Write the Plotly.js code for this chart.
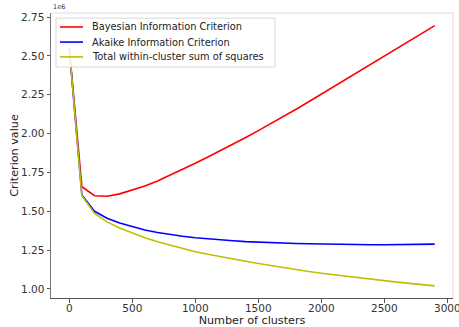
<!DOCTYPE html>
<html>
<head>
<meta charset="utf-8">
<script src="https://cdn.plot.ly/plotly-3.0.1.min.js"></script>
<style>html,body{margin:0;padding:0;background:#fff;}#chart{width:459px;height:327px;}</style>
</head>
<body>
<div id="chart"></div>
<script>
const clusters = [0,100,200,300,400,500,600,700,800,900,1000,1100,1200,1300,1400,1500,1600,1700,1800,1900,2000,2100,2200,2300,2400,2500,2600,2700,2800,2900];
const bic = [2.55,1.658,1.600,1.597,1.612,1.635,1.662,1.695,1.732,1.770,1.809,1.849,1.890,1.932,1.975,2.019,2.064,2.110,2.157,2.205,2.254,2.303,2.352,2.401,2.450,2.499,2.548,2.597,2.646,2.695];
const aic = [2.55,1.605,1.500,1.455,1.425,1.400,1.380,1.364,1.350,1.339,1.330,1.322,1.315,1.310,1.305,1.301,1.298,1.295,1.293,1.291,1.289,1.288,1.287,1.286,1.285,1.285,1.286,1.287,1.288,1.289];
const wcss = [2.55,1.600,1.487,1.432,1.392,1.360,1.330,1.304,1.281,1.260,1.240,1.224,1.207,1.192,1.178,1.164,1.150,1.137,1.124,1.112,1.101,1.091,1.081,1.071,1.062,1.053,1.044,1.036,1.028,1.020];
const seriesNames = ["Bayesian Information Criterion","Akaike Information Criterion","Total within-cluster sum of squares"];
const seriesColors = ["#ff0000","#0000ff","#bfbf00"];
const xTicks = [0,500,1000,1500,2000,2500,3000];
const yTicks = [1.00,1.25,1.50,1.75,2.00,2.25,2.50,2.75];

const font = "DejaVu Sans, Liberation Sans, sans-serif";
const seriesValues = [bic, aic, wcss];
const traces = seriesValues.map((vals, i) => ({
  x: clusters, y: vals, name: seriesNames[i], mode: "lines",
  line: {color: seriesColors[i], width: 1.6}, showlegend: false
}));

// matplotlib-style legend box (upper left), built from the series names/colours
const legRows = [0.951, 0.898, 0.846];
const shapes = [
  {type: "line", xref: "paper", yref: "paper", x0: 0, x1: 1, y0: 1, y1: 1, line: {color: "#dddddd", width: 1}},
  {type: "line", xref: "paper", yref: "paper", x0: 1, x1: 1, y0: 0, y1: 1, line: {color: "#dddddd", width: 1}},
  {type: "rect", xref: "paper", yref: "paper", x0: 0.0124, x1: 0.557, y0: 0.8105, y1: 0.982,
   fillcolor: "rgba(255,255,255,0.85)", line: {color: "#d8d8d8", width: 1}}
];
const annotations = [
  {text: "1e6", xref: "paper", yref: "paper", x: 0, y: 1, xanchor: "left", yanchor: "bottom",
   showarrow: false, font: {size: 6.5, color: "#333"}}
];
seriesNames.forEach((nm, i) => {
  shapes.push({type: "line", xref: "paper", yref: "paper", x0: 0.0224, x1: 0.0796, y0: legRows[i], y1: legRows[i],
    line: {color: seriesColors[i], width: 1.6}});
  annotations.push({text: nm, xref: "paper", yref: "paper", x: 0.097, y: legRows[i], xanchor: "left", yanchor: "middle",
    showarrow: false, font: {size: 9.8, color: "#222"}});
});

const layout = {
  width: 459, height: 327,
  margin: {l: 51, r: 6, t: 13, b: 29},
  paper_bgcolor: "#fff", plot_bgcolor: "#fff",
  font: {family: font, size: 10.5, color: "#333"},
  showlegend: false,
  xaxis: {range: [-145, 3045], tickvals: xTicks, ticks: "outside", ticklen: 3.5, tickcolor: "#555",
    showgrid: false, zeroline: false, showline: true, linecolor: "#555", linewidth: 1,
    ticklabeloverflow: "allow", ticklabelstandoff: -3,
    tickfont: {size: 10.5, color: "#333"},
    title: {text: "Number of clusters", font: {size: 11.2, color: "#222"}, standoff: 0}},
  yaxis: {range: [0.942, 2.776], tickvals: yTicks, tickformat: ".2f", ticks: "outside", ticklen: 3.5, tickcolor: "#555",
    showgrid: false, zeroline: false, showline: true, linecolor: "#777", linewidth: 1,
    tickfont: {size: 10.5, color: "#333"},
    title: {text: "Criterion value", font: {size: 11.2, color: "#222"}, standoff: 0}},
  shapes: shapes,
  annotations: annotations
};
Plotly.newPlot("chart", traces, layout, {staticPlot: true, displayModeBar: false});
</script>
</body>
</html>
